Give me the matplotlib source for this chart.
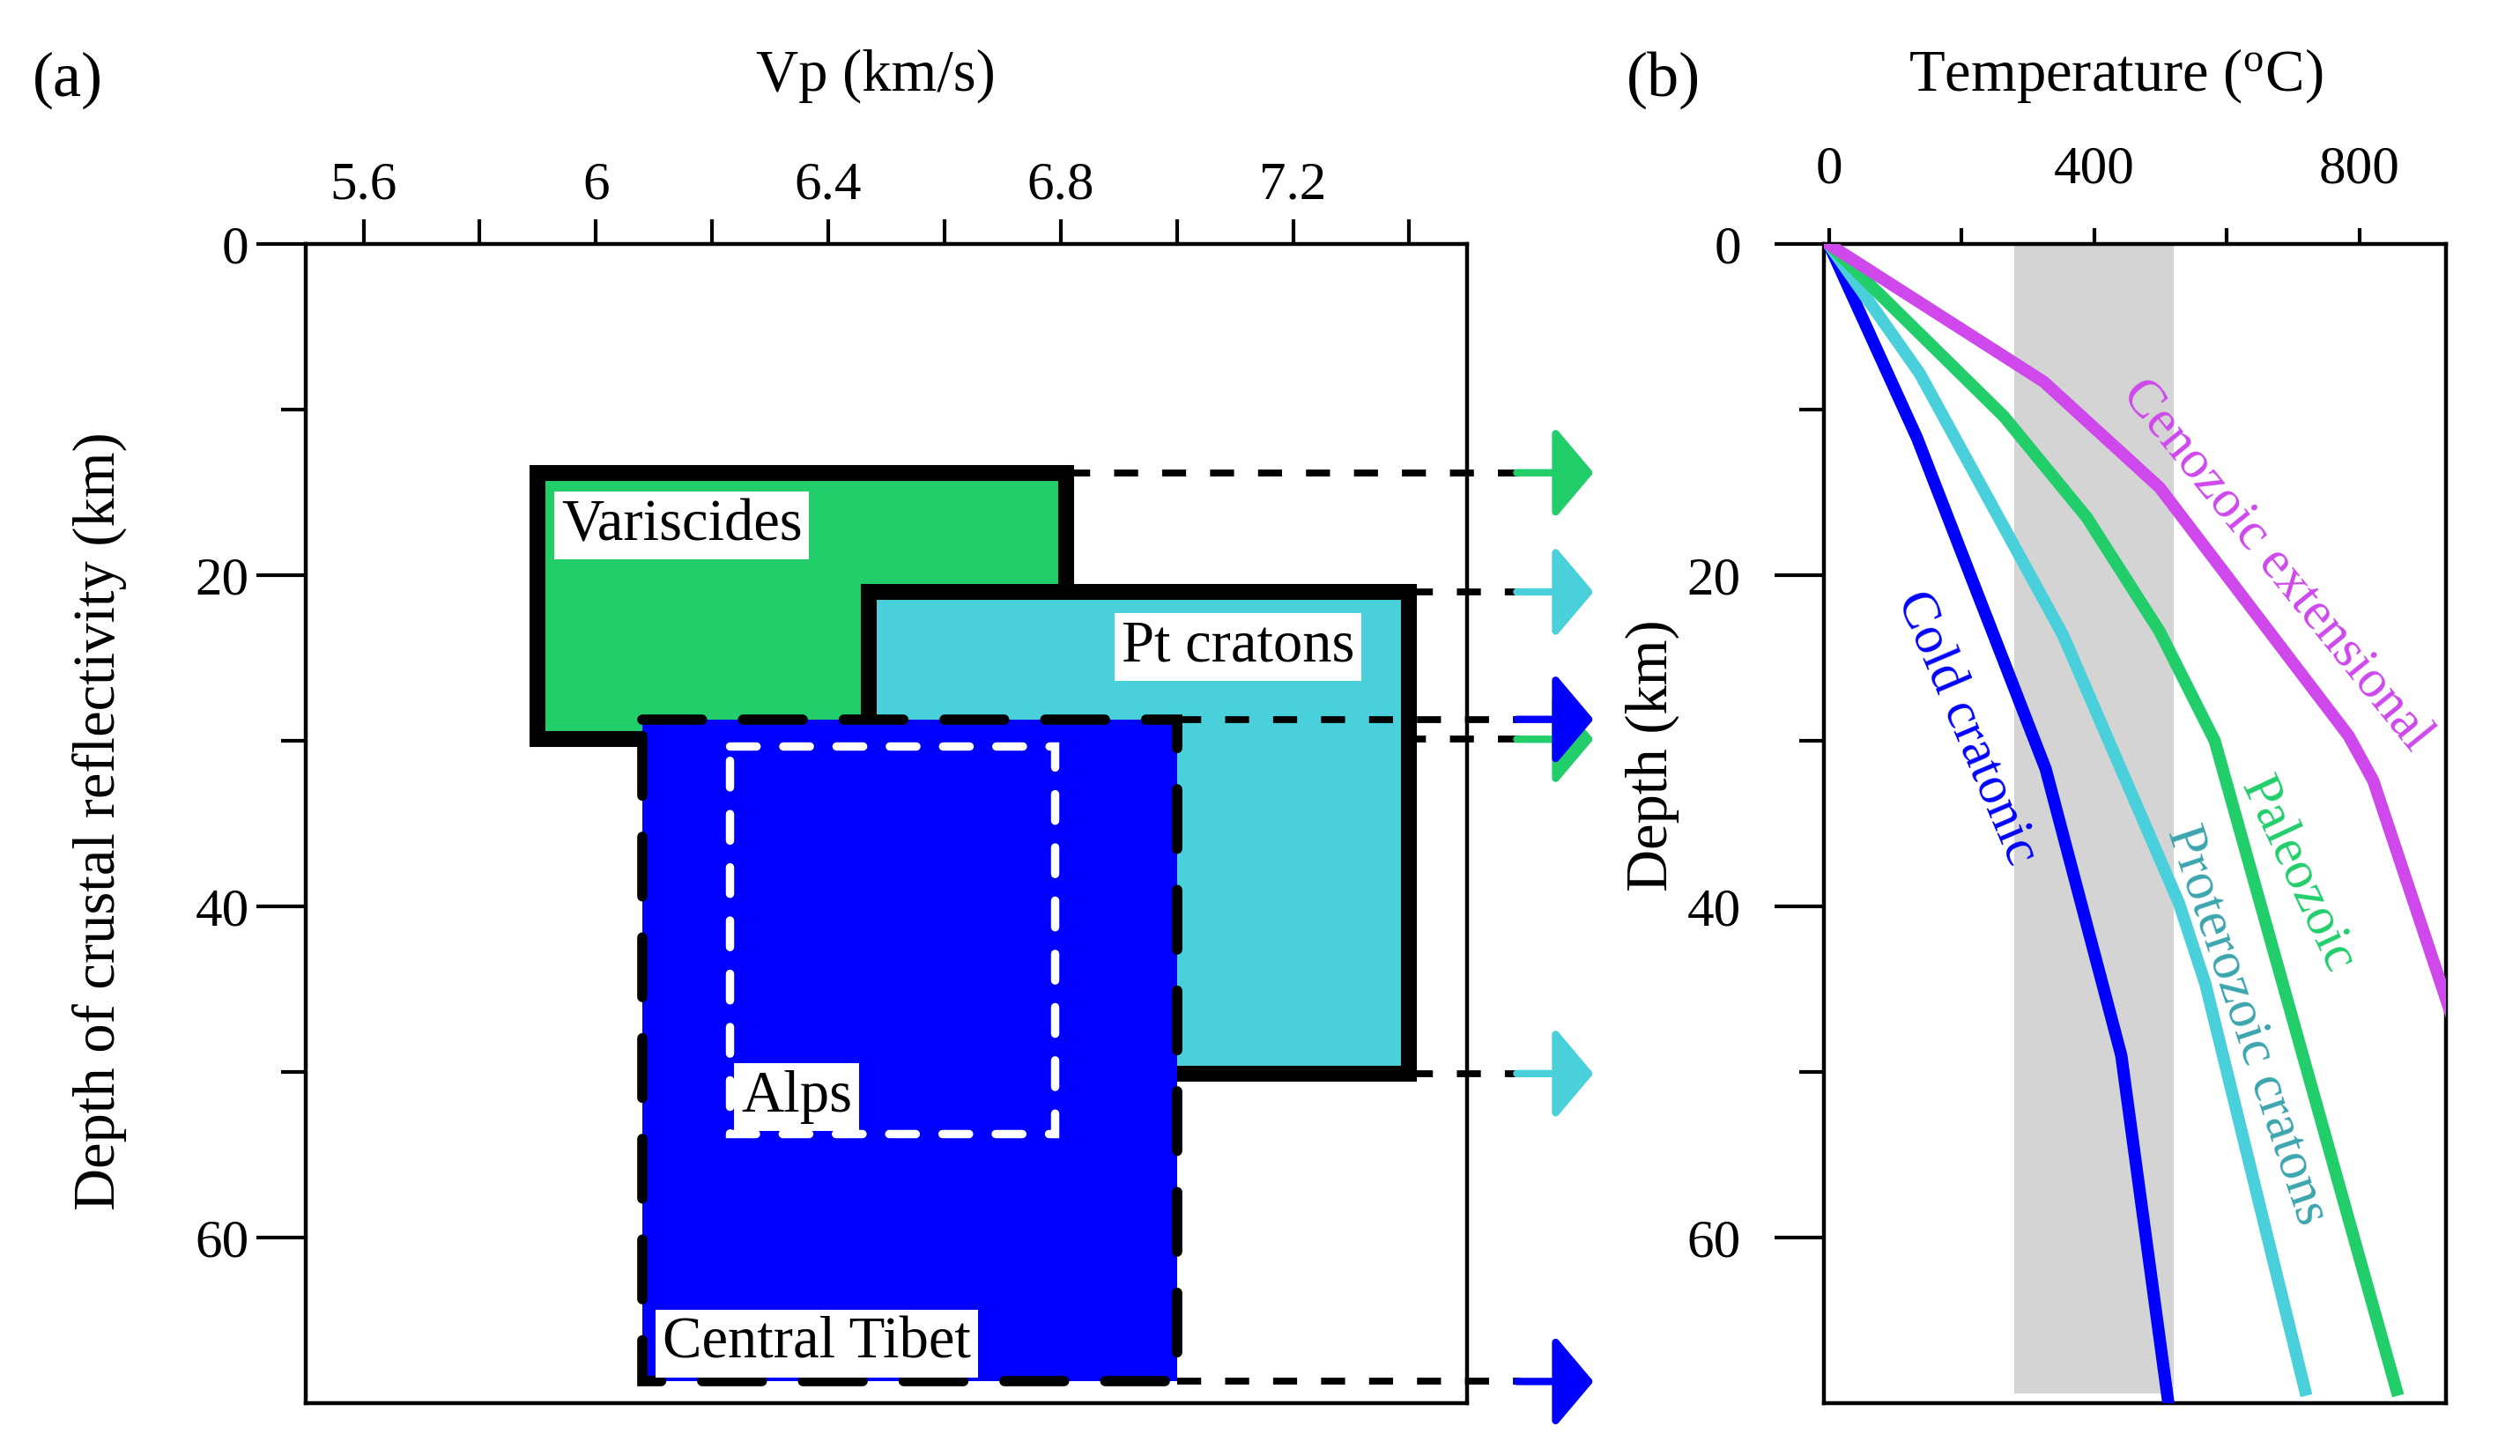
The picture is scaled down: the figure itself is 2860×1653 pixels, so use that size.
import matplotlib
matplotlib.use("Agg")
import matplotlib.pyplot as plt
from matplotlib.patches import Rectangle

plt.rcParams['font.family'] = ['Liberation Serif', 'DejaVu Serif']
plt.rcParams['mathtext.fontset'] = 'custom'
plt.rcParams['mathtext.rm'] = 'Liberation Serif'

# Panel (a): Vp ranges vs depth of crustal reflectivity
regions = ['Variscides', 'Pt cratons', 'Central Tibet', 'Alps']
vp_min = [5.9, 6.47, 6.08, 6.23]
vp_max = [6.81, 7.4, 7.0, 6.79]
depth_top = [13.8, 21.0, 28.7, 30.3]
depth_bot = [29.9, 50.1, 68.7, 53.7]
region_colors = ['#21CE6A', '#4AD0DA', '#0000FF', '#0000FF']
label_vp = [5.94, 6.905, 6.115, 6.25]
label_depth = [17.0, 24.3, 66.4, 51.5]

# Panel (b): geotherms
cold_T = [0, 133, 327, 441, 512]
cold_d = [0, 11.7, 31.7, 49.0, 70.0]
prot_T = [0, 137, 353, 528, 568, 718]
prot_d = [0, 7.8, 23.6, 39.8, 44.7, 69.2]
pal_T = [0, 264, 389, 499, 582, 856]
pal_d = [0, 10.4, 16.5, 23.4, 30.0, 69.2]
ceno_T = [0, 324, 499, 784, 821, 950]
ceno_d = [0, 8.3, 14.7, 29.7, 32.4, 47.9]
band_T = [280, 520]
band_depth = 69.4

fig = plt.figure(figsize=(14.3, 8.265), dpi=200)
ax_a = fig.add_axes([0.1212, 0.0364, 0.4611, 0.7958])
ax_b = fig.add_axes([0.7239, 0.0364, 0.2468, 0.7958])

# ---- panel (a)
ax_a.set_xlim(5.5, 7.5)
ax_a.set_ylim(70, 0)

styles = [
    dict(edgecolor='k', lw=6.5, ls='-'),
    dict(edgecolor='k', lw=6.5, ls='-'),
    dict(edgecolor='k', lw=4.2, ls=(0, (5.8, 4.0))),
    dict(edgecolor='white', lw=3.4, ls=(0, (3.2, 3.2))),
]
fills = [True, True, True, False]
for i, name in enumerate(regions):
    rect = Rectangle((vp_min[i], depth_top[i]), vp_max[i] - vp_min[i],
                     depth_bot[i] - depth_top[i],
                     facecolor=region_colors[i] if fills[i] else 'none',
                     zorder=2 + i, joinstyle='miter', capstyle='round',
                     **styles[i])
    ax_a.add_patch(rect)
    ax_a.text(label_vp[i], label_depth[i], name, fontsize=24, ha='left',
              va='center', zorder=10,
              bbox=dict(facecolor='white', edgecolor='none',
                        boxstyle='square,pad=0.12'))

# dashed guides + arrows toward panel (b)
shaft_start = 7.59
tip = 7.717
line_z = [1.5, 3.5, 5.5]
for i in range(3):
    for d in (depth_top[i], depth_bot[i]):
        ax_a.plot([vp_max[i], shaft_start], [d, d], color='k', lw=2.8,
                  ls=(0, (3.5, 3.5)), clip_on=False, zorder=line_z[i])
        ax_a.annotate('', xy=(tip, d), xytext=(shaft_start - 0.005, d),
                      annotation_clip=False, zorder=8,
                      arrowprops=dict(arrowstyle='-|>,head_length=1.35,head_width=1.6',
                                      mutation_scale=10, color=region_colors[i],
                                      lw=3, shrinkA=0, shrinkB=0))

ax_a.xaxis.tick_top()
ax_a.set_xticks([5.6, 6.0, 6.4, 6.8, 7.2])
ax_a.set_xticklabels(['5.6', '6', '6.4', '6.8', '7.2'])
ax_a.set_xticks([5.8, 6.2, 6.6, 7.0, 7.4], minor=True)
ax_a.set_yticks([0, 20, 40, 60])
ax_a.set_yticks([10, 30, 50], minor=True)
ax_a.tick_params(axis='x', which='both', direction='out', length=10,
                 width=1.5, labelsize=22, pad=4)
ax_a.tick_params(axis='y', which='major', direction='out', length=20,
                 width=1.5, labelsize=22, pad=3)
ax_a.tick_params(axis='y', which='minor', direction='out', length=10, width=1.5)
for s in ax_a.spines.values():
    s.set_linewidth(1.6)

ax_a.text(0.491, 1.1456, 'Vp (km/s)', transform=ax_a.transAxes,
          fontsize=24, ha='center', va='center')
ax_a.text(-0.177, 0.502, 'Depth of crustal reflectivity (km)',
          transform=ax_a.transAxes, fontsize=24, ha='center', va='center',
          rotation=90)

# ---- panel (b)
ax_b.set_xlim(-7, 931)
ax_b.set_ylim(70, 0)
ax_b.fill_betweenx([0, band_depth], band_T[0], band_T[1],
                   color='#D4D4D4', lw=0, zorder=1)

lines = [
    (cold_T, cold_d, '#0000FF'),
    (prot_T, prot_d, '#4AD0DA'),
    (pal_T, pal_d, '#21CE6A'),
    (ceno_T, ceno_d, '#CE48EC'),
]
for T, d, c in lines:
    ax_b.plot(T, d, color=c, lw=5, zorder=3, solid_joinstyle='miter')

geo_labels = ['Cold cratonic', 'Proterozoic cratons', 'Paleozoic',
              'Cenozoic extensional']
geo_label_T = [208, 630, 705, 674]
geo_label_d = [29.2, 47.2, 38.1, 19.4]
geo_label_rot = [-67, -71.5, -65, -51]
geo_label_col = ['#0000FF', '#3BA5AE', '#21CE6A', '#CE48EC']
for i, lab in enumerate(geo_labels):
    ax_b.text(geo_label_T[i], geo_label_d[i], lab, fontsize=22,
              color=geo_label_col[i], rotation=geo_label_rot[i],
              rotation_mode='anchor', ha='center', va='center', zorder=5)

ax_b.xaxis.tick_top()
ax_b.set_xticks([0, 400, 800])
ax_b.set_xticks([200, 600], minor=True)
ax_b.set_yticks([0, 20, 40, 60])
ax_b.set_yticks([10, 30, 50], minor=True)
ax_b.tick_params(axis='x', which='both', direction='out', length=6.5,
                 width=1.5, labelsize=22, pad=14)
ax_b.tick_params(axis='y', which='major', direction='out', length=20,
                 width=1.5, labelsize=22, pad=14)
ax_b.tick_params(axis='y', which='minor', direction='out', length=10, width=1.5)
for s in ax_b.spines.values():
    s.set_linewidth(1.6)

ax_b.text(0.468, 1.1456, r'Temperature ($\mathregular{^o}$C)',
          transform=ax_b.transAxes, fontsize=24, ha='center', va='center')
ax_b.text(-0.276, 0.559, 'Depth (km)', transform=ax_b.transAxes,
          fontsize=24, ha='center', va='center', rotation=90)

fig.text(0.0268, 0.9448, '(a)', fontsize=26, ha='center', va='center')
fig.text(0.660, 0.9448, '(b)', fontsize=26, ha='center', va='center')

fig.savefig('out.png', dpi=200)
